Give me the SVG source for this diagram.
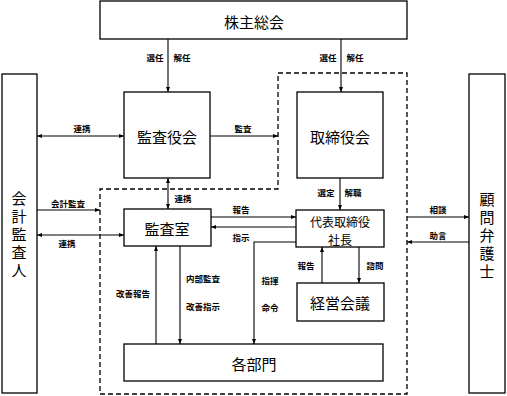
<svg xmlns="http://www.w3.org/2000/svg" width="507" height="396" viewBox="0 0 507 396">
<defs>
<style>
.box{fill:#fff;stroke:#000;stroke-width:1.3}
.dash{fill:none;stroke:#000;stroke-width:1.3;stroke-dasharray:5,3}
.ln{fill:none;stroke:#000;stroke-width:1.1}
.big{font-family:"Noto Sans CJK JP","Noto Sans CJK SC",sans-serif;font-size:15px;text-anchor:middle;dominant-baseline:central;fill:#000}
.vt{font-family:"Noto Sans CJK JP","Noto Sans CJK SC",sans-serif;font-size:15px;writing-mode:vertical-rl;letter-spacing:3px;fill:#000}
.mid{font-family:"Noto Sans CJK JP","Noto Sans CJK SC",sans-serif;font-size:12px;text-anchor:middle;dominant-baseline:central;fill:#000}
.sm{font-family:"Noto Sans CJK JP","Noto Sans CJK SC",sans-serif;font-size:8.5px;font-weight:bold;text-anchor:middle;dominant-baseline:central;fill:#000}
</style>
<marker id="ah" viewBox="0 0 10 10" refX="10" refY="5" markerWidth="5" markerHeight="5" orient="auto-start-reverse" markerUnits="userSpaceOnUse">
<path d="M0,1 L10,5 L0,9 z" fill="#000"/>
</marker>
</defs>
<rect width="507" height="396" fill="#fff"/>
<path class="dash" d="M278,73 H407 V394 H100 V189 H278 Z"/>
<g id="kabunushi"><rect class="box" x="100" y="1" width="307" height="38"/><text class="big" x="254" y="21">株主総会</text></g>
<g id="kaikei"><rect class="box" x="2" y="74" width="35" height="319"/>
<text class="vt" x="19" y="191">会計監査人</text></g>
<g id="komon"><rect class="box" x="469" y="74" width="36" height="319"/>
<text class="vt" x="487" y="192">顧問弁護士</text></g>
<g id="kansayakukai"><rect class="box" x="124" y="92" width="86" height="86"/><text class="big" x="167" y="136">監査役会</text></g>
<g id="torishimariyakukai"><rect class="box" x="297" y="92" width="86" height="86"/><text class="big" x="340" y="136">取締役会</text></g>
<g id="kansashitsu"><rect class="box" x="124" y="209" width="87" height="37"/><text class="big" x="167" y="228">監査室</text></g>
<g id="daihyo"><rect class="box" x="296" y="210" width="88" height="37"/><text class="mid" x="340" y="221">代表取締役</text><text class="mid" x="340" y="239">社長</text></g>
<g id="keiei"><rect class="box" x="297" y="283" width="87" height="38"/><text class="big" x="340" y="302">経営会議</text></g>
<g id="kakubumon"><rect class="box" x="124" y="344" width="259" height="37"/><text class="big" x="254" y="363">各部門</text></g>
<g id="connectors">
<line class="ln" x1="168" y1="39" x2="168" y2="92" marker-end="url(#ah)"/>
<line class="ln" x1="341" y1="39" x2="341" y2="92" marker-end="url(#ah)"/>
<line class="ln" x1="37" y1="136" x2="124" y2="136" marker-start="url(#ah)" marker-end="url(#ah)"/>
<line class="ln" x1="210" y1="136" x2="278" y2="136" marker-end="url(#ah)"/>
<line class="ln" x1="168" y1="178" x2="168" y2="209" marker-start="url(#ah)" marker-end="url(#ah)"/>
<line class="ln" x1="37" y1="210" x2="100" y2="210" marker-end="url(#ah)"/>
<line class="ln" x1="37" y1="235" x2="124" y2="235" marker-start="url(#ah)" marker-end="url(#ah)"/>
<line class="ln" x1="340" y1="178" x2="340" y2="210" marker-end="url(#ah)"/>
<line class="ln" x1="211" y1="217" x2="296" y2="217" marker-end="url(#ah)"/>
<line class="ln" x1="296" y1="227" x2="211" y2="227" marker-end="url(#ah)"/>
<line class="ln" x1="407" y1="217" x2="469" y2="217" marker-end="url(#ah)"/>
<line class="ln" x1="469" y1="242" x2="407" y2="242" marker-end="url(#ah)"/>
<line class="ln" x1="156" y1="344" x2="156" y2="246" marker-end="url(#ah)"/>
<line class="ln" x1="180" y1="246" x2="180" y2="344" marker-end="url(#ah)"/>
<polyline class="ln" points="296,242 254,242 254,344" marker-end="url(#ah)"/>
<line class="ln" x1="322" y1="283" x2="322" y2="247" marker-end="url(#ah)"/>
<line class="ln" x1="359" y1="247" x2="359" y2="283" marker-end="url(#ah)"/>
</g>
<g id="labels">
<text class="sm" x="155" y="57">選任</text><text class="sm" x="182" y="57">解任</text>
<text class="sm" x="328" y="57">選任</text><text class="sm" x="355" y="57">解任</text>
<text class="sm" x="82" y="128">連携</text>
<text class="sm" x="243" y="128">監査</text>
<text class="sm" x="183" y="198">連携</text>
<text class="sm" x="68" y="203">会計監査</text>
<text class="sm" x="67" y="243">連携</text>
<text class="sm" x="326" y="192">選定</text><text class="sm" x="353" y="192">解職</text>
<text class="sm" x="241" y="209">報告</text>
<text class="sm" x="241" y="237">指示</text>
<text class="sm" x="438" y="209">相談</text>
<text class="sm" x="438" y="235">助言</text>
<text class="sm" x="133" y="293">改善報告</text>
<text class="sm" x="203" y="278">内部監査</text>
<text class="sm" x="203" y="306">改善指示</text>
<text class="sm" x="270" y="280">指揮</text>
<text class="sm" x="270" y="307">命令</text>
<text class="sm" x="306" y="265">報告</text>
<text class="sm" x="375" y="265">諮問</text>
</g>
</svg>
